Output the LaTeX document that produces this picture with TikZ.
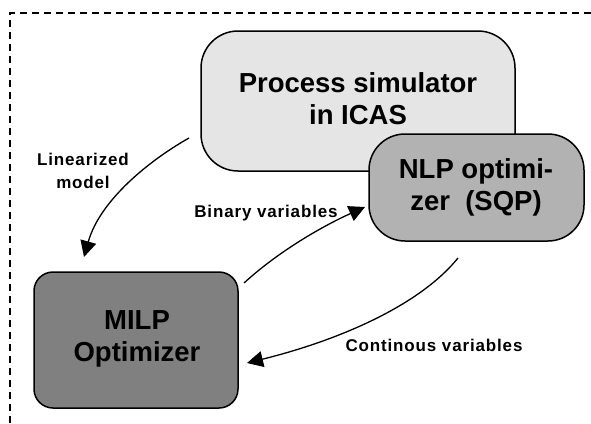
\documentclass[tikz,border=0pt]{standalone}
\usepackage{fontspec}
\setmainfont{Liberation Sans}
\newfontfamily\lblfont[LetterSpace=5]{Liberation Sans}
\usetikzlibrary{arrows.meta}
\definecolor{procfill}{gray}{0.90}
\definecolor{nlpfill}{gray}{0.70}
\definecolor{milpfill}{gray}{0.50}
\tikzset{
  boxa/.style={draw=black,line width=1.5pt},
  flow/.style={draw=black,line width=1.3pt,-{Triangle[length=16pt,width=16pt]}},
  big/.style={font=\fontsize{27.5}{32}\selectfont\bfseries,align=center,inner sep=0pt},
  small/.style={font=\fontsize{17}{23}\lblfont\bfseries,align=center,inner sep=0pt},
}
\begin{document}
\begin{tikzpicture}[x=1pt,y=-1pt]
\useasboundingbox (0,0) rectangle (591,423);
\fill[white] (0,0) rectangle (591,423);
\draw[line width=1.3pt,dash pattern=on 7pt off 5pt] (10,423) -- (10,13) -- (591,13);
\draw[boxa,fill=procfill,rounded corners=37pt] (201,31) rectangle (515,171);
\node[big] (proc) at (358,99) {Process simulator\\in ICAS};
\draw[boxa,fill=nlpfill,rounded corners=36pt] (369,134) rectangle (584,241);
\node[big] (nlp) at (476,187) {NLP optimi-\\zer\ \ (SQP)};
\draw[boxa,fill=milpfill,rounded corners=19pt] (34,272) rectangle (238,408);
\node[big] (milp) at (137,339) {MILP\\Optimizer};
\node[small] (linlab) at (83,171) {Linearized\\model};
\node[small] (binlab) at (266,213) {Binary variables};
\node[small] (conlab) at (434,345) {Continous variables};
\coordinate (a1) at (189,138);
\coordinate (a2) at (84,257);
\coordinate (b1) at (244,283);
\coordinate (b2) at (365,207);
\coordinate (c1) at (458,258);
\coordinate (c2) at (247,363);
\draw[flow] (a1) .. controls (150,160) and (100,200) .. (a2);
\draw[flow] (b1) .. controls (280,250) and (325,225) .. (b2);
\draw[flow] (c1) .. controls (420,305) and (340,340) .. (c2);
\end{tikzpicture}
\end{document}
